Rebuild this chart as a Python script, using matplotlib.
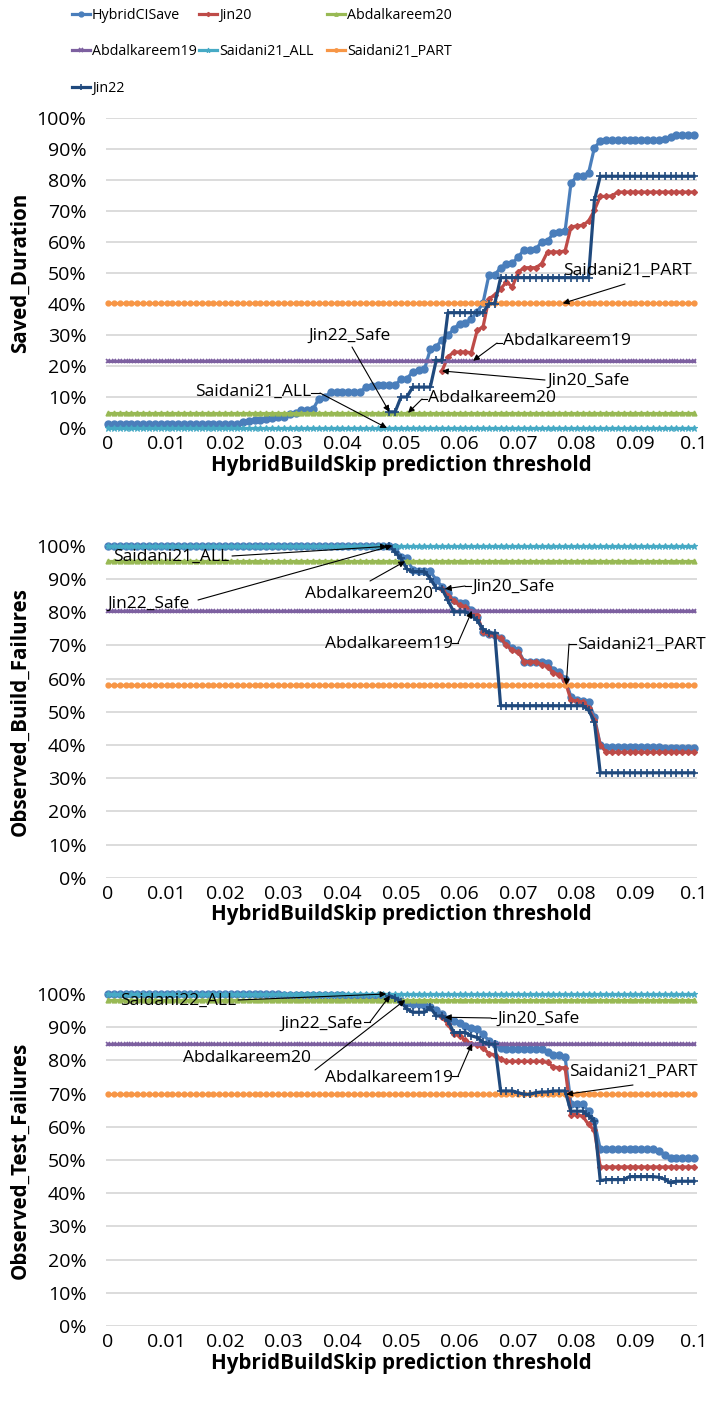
import numpy as np
import matplotlib
matplotlib.use("Agg")
import matplotlib.pyplot as plt
from matplotlib.lines import Line2D
from matplotlib.ticker import FixedLocator, FuncFormatter

plt.rcParams['font.family'] = ['Open Sans', 'DejaVu Sans']

W, H = 710, 1402

# ---------------- data ----------------
thresholds = [round(i * 0.001, 3) for i in range(101)]
xtick_values = [0.0, 0.01, 0.02, 0.03, 0.04, 0.05, 0.06, 0.07, 0.08, 0.09, 0.1]
xtick_labels = ['0', '0.01', '0.02', '0.03', '0.04', '0.05', '0.06', '0.07', '0.08', '0.09', '0.1']
ytick_values = [0, 10, 20, 30, 40, 50, 60, 70, 80, 90, 100]

series_names = ['HybridCISave', 'Jin20', 'Abdalkareem20', 'Abdalkareem19',
                'Saidani21_ALL', 'Saidani21_PART', 'Jin22']
panel_ylabels = ['Saved_Duration', 'Observed_Build_Failures', 'Observed_Test_Failures']
xlabel_text = 'HybridBuildSkip prediction threshold'

# Panel 1: Saved_Duration (%)
sd_hybrid = ([1.5] * 20 +
             [1.5, 1.5, 1.5, 1.9, 2.2, 2.6, 2.8, 3.1, 3.3, 3.5,
              3.6, 4.5, 5.0, 6.0, 6.0, 6.2, 9.6, 10.0, 11.7, 11.7,
              11.7, 11.7, 11.7, 11.7, 13.3, 13.6, 13.9, 13.9, 13.9, 13.9,
              15.8, 16.0, 18.2, 18.7, 19.0, 25.5, 26.3, 28.6, 30.0, 32.0,
              33.8, 34.0, 35.3, 37.5, 40.5, 49.4, 49.5, 51.8, 52.9, 53.2,
              55.3, 57.6, 57.6, 57.8, 60.1, 60.3, 63.0, 63.3, 63.6, 79.0,
              81.3, 81.5, 82.3, 90.5, 92.6, 93.0, 93.0, 93.0, 93.0, 93.0,
              93.0, 93.0, 93.0, 93.0, 93.0, 93.2, 94.0, 94.5, 94.5, 94.5,
              94.5])
sd_jin20 = ([None] * 57 +
            [18.5, 23.0, 24.6,
             24.6, 24.6, 24.4, 31.6, 32.7, 41.8, 43.0, 45.0, 47.2, 45.6,
             50.4, 51.8, 51.8, 51.8, 53.1, 56.9, 56.9, 56.9, 57.2, 64.9,
             65.3, 65.5, 66.8, 70.3, 74.8, 74.8, 75.0, 76.2, 76.2, 76.2,
             76.2, 76.2, 76.2, 76.2, 76.2, 76.2, 76.2, 76.2, 76.2, 76.2,
             76.2])
sd_jin22 = ([None] * 48 +
            [5.3, 5.3,
             10.1, 10.1, 13.3, 13.3, 13.3, 13.3, 21.9, 21.9, 37.3, 37.3,
             37.3, 37.3, 37.3, 37.3, 37.3, 40.2, 40.2, 48.6, 48.6, 48.6,
             48.6, 48.6, 48.6, 48.6, 48.6, 48.6, 48.6, 48.6, 48.6, 48.6,
             48.6, 48.6, 48.6, 73.5, 81.3, 81.3, 81.3, 81.3, 81.3, 81.3,
             81.3, 81.3, 81.3, 81.3, 81.3, 81.3, 81.3, 81.3, 81.3, 81.3,
             81.3])
sd_abdalkareem20 = [5.0] * 101
sd_abdalkareem19 = [21.8] * 101
sd_saidani_all = [0.1] * 101
sd_saidani_part = [40.3] * 101

# Panel 2: Observed_Build_Failures (%)
bf_hybrid = ([100.0] * 49 +
             [99.6,
              96.7, 96.2, 92.7, 92.5, 92.5, 92.3, 89.7, 87.7, 85.7, 83.6,
              82.6, 82.6, 80.6, 78.6, 74.0, 73.3, 73.0, 72.1, 70.6, 69.1,
              68.6, 65.1, 65.1, 65.1, 65.1, 64.6, 62.6, 62.1, 60.0, 54.5,
              53.5, 53.2, 53.0, 48.5, 40.0, 39.5, 39.5, 39.5, 39.5, 39.5,
              39.5, 39.5, 39.5, 39.5, 39.5, 39.2, 39.0, 39.0, 39.0, 39.0,
              39.0])
bf_jin20 = ([None] * 57 +
            [87.0, 85.0, 83.3,
             82.1, 81.6, 80.1, 79.0, 74.0, 73.4, 72.8, 72.1, 70.0, 68.5,
             68.0, 65.1, 65.1, 65.0, 64.2, 63.6, 61.7, 61.1, 59.2, 53.5,
             53.2, 53.0, 51.2, 47.5, 40.0, 37.8, 37.8, 37.8, 37.8, 37.8,
             37.8, 37.8, 37.8, 37.8, 37.8, 37.8, 37.8, 37.8, 37.8, 37.8,
             37.8])
bf_jin22 = ([None] * 48 +
            [100.0, 98.0,
             96.2, 93.0, 92.2, 92.2, 92.2, 90.1, 87.2, 87.0, 83.5, 80.1,
             80.1, 80.1, 79.0, 77.6, 74.8, 73.8, 73.6, 51.8, 51.8, 51.8,
             51.8, 51.8, 51.8, 51.8, 51.8, 51.8, 51.8, 51.8, 51.8, 51.8,
             51.8, 51.8, 50.5, 47.0, 31.6, 31.6, 31.6, 31.6, 31.6, 31.6,
             31.6, 31.6, 31.6, 31.6, 31.6, 31.6, 31.6, 31.6, 31.6, 31.6,
             31.6])
bf_abdalkareem20 = [95.3] * 101
bf_abdalkareem19 = [80.3] * 101
bf_saidani_all = [100.0] * 101
bf_saidani_part = [58.0] * 101

# Panel 3: Observed_Test_Failures (%)
tf_hybrid = ([100.0] * 30 + [99.7] * 11 + [99.5] * 7 +
             [99.4, 98.8,
              97.8, 97.3, 97.0, 96.9, 96.8, 96.0, 95.2, 94.0, 92.6, 91.8,
              91.4, 90.5, 89.9, 89.4, 87.9, 85.9, 84.9, 83.7, 83.4, 83.4,
              83.4, 83.4, 83.4, 83.4, 83.4, 82.5, 81.6, 81.6, 81.0, 67.0,
              66.8, 66.8, 64.7, 61.7, 53.2, 53.2, 53.2, 53.2, 53.2, 53.2,
              53.2, 53.2, 53.2, 53.2, 52.8, 51.5, 50.7, 50.7, 50.7, 50.7,
              50.7])
tf_jin20 = ([None] * 57 +
            [93.0, 91.0, 88.0,
             87.4, 86.0, 85.0, 84.7, 83.8, 82.0, 81.7, 80.5, 79.7, 79.7,
             79.7, 79.7, 79.7, 79.7, 79.7, 79.4, 78.0, 77.8, 77.8, 63.7,
             63.7, 63.2, 60.7, 58.9, 47.9, 47.9, 47.9, 47.9, 47.9, 47.9,
             47.9, 47.9, 47.9, 47.9, 47.9, 47.9, 47.9, 47.9, 47.9, 47.9,
             47.9])
tf_jin22 = ([None] * 48 +
            [99.5, 98.8,
             97.6, 95.5, 94.5, 94.5, 94.5, 96.0, 93.4, 93.4, 92.0, 88.4,
             88.4, 88.4, 87.4, 86.9, 85.5, 84.9, 84.9, 70.8, 70.8, 70.8,
             70.3, 69.8, 69.8, 70.3, 70.5, 70.5, 70.8, 70.8, 70.8, 64.7,
             64.7, 64.7, 63.3, 61.7, 43.8, 44.1, 44.1, 44.1, 44.1, 45.0,
             45.0, 45.0, 45.0, 45.0, 44.8, 44.2, 43.1, 43.6, 43.6, 43.6,
             43.6])
tf_abdalkareem20 = [98.2] * 101
tf_abdalkareem19 = [85.0] * 101
tf_saidani_all = [100.0] * 101
tf_saidani_part = [69.8] * 101

panels = [
    [sd_hybrid, sd_jin20, sd_abdalkareem20, sd_abdalkareem19, sd_saidani_all, sd_saidani_part, sd_jin22],
    [bf_hybrid, bf_jin20, bf_abdalkareem20, bf_abdalkareem19, bf_saidani_all, bf_saidani_part, bf_jin22],
    [tf_hybrid, tf_jin20, tf_abdalkareem20, tf_abdalkareem19, tf_saidani_all, tf_saidani_part, tf_jin22],
]

# annotations: text, text left px, text centre y px, tip (threshold, value), tail px, hook start x px
notes = [
    [('Saidani21_PART', 563, 271, (0.0776, 40.3), (625, 284), None),
     ('Abdalkareem19', 503, 341, (0.0623, 21.8), (497, 343), 502),
     ('Jin20_Safe', 547, 381, (0.057, 18.5), (545, 380), None),
     ('Abdalkareem20', 428, 398, (0.0512, 5.0), (422, 399), 427),
     ('Jin22_Safe', 308, 336, (0.048, 5.3), (352, 347), None),
     ('Saidani21_ALL', 195, 392, (0.0476, 0.1), (320, 393), 311)],
    [('Saidani21_ALL', 113, 557, (0.0476, 99.8), (232, 556), None),
     ('Jin22_Safe', 107, 604, (0.0485, 100.0), (198, 600), None),
     ('Abdalkareem20', 305, 594, (0.0507, 95.3), (370, 581), None),
     ('Jin20_Safe', 472, 587, (0.0575, 87.0), (465, 586), 471),
     ('Abdalkareem19', 325, 644, (0.0621, 80.3), (458, 643), 452),
     ('Saidani21_PART', 577, 645, (0.0782, 58.0), (569, 644), 576)],
    [('Saidani22_ALL', 120, 1001, (0.0475, 100.0), (238, 1000), None),
     ('Jin22_Safe', 280, 1024, (0.0481, 99.5), (370, 1022), 364),
     ('Abdalkareem20', 183, 1058, (0.0507, 98.2), (315, 1070), None),
     ('Jin20_Safe', 497, 1019, (0.0575, 93.0), (491, 1018), 496),
     ('Abdalkareem19', 325, 1078, (0.0621, 85.0), (458, 1076), 452),
     ('Saidani21_PART', 569, 1072, (0.0782, 69.8), (633, 1085), None)],
]

# ---------------- styles ----------------
colors = ['#4A7EBB', '#BE4B48', '#98B954', '#7D60A0', '#46AAC5', '#F79646', '#1F497D']
markers = ['o', 'D', '^', 'x', '*', 'o', '+']
msizes = [5.0, 3.0, 3.5, 3.5, 5.0, 3.5, 6.0]
mews = [1.0, 1.0, 1.0, 1.2, 0.8, 1.0, 1.2]
lws = [2.3, 2.3, 2.3, 2.3, 2.3, 2.3, 2.3]

FS_TICK = 14
FS_NOTE = 12.5
FS_BOLD = 14.8
FS_LEG = 10.3
fig = plt.figure(figsize=(W / 100, H / 100), dpi=100)

rects_px = [(106, 118.3, 591, 310), (106, 545.7, 591, 332), (106, 994, 591, 332)]
x_pos = np.arange(len(thresholds))
px_per_idx = 5.86


def fig_frac(px, py):
    return px / W, 1 - py / H


def idx_of(t):
    return (t - thresholds[0]) / (thresholds[1] - thresholds[0])


for p, (lx, ty, wpx, hpx) in enumerate(rects_px):
    ax = fig.add_axes([lx / W, 1 - (ty + hpx) / H, wpx / W, hpx / H])
    for s, vals in enumerate(panels[p]):
        y = np.array(vals, dtype=float)
        ax.plot(x_pos, y, color=colors[s], lw=lws[s], marker=markers[s],
                ms=msizes[s], mew=mews[s], mec=colors[s], mfc=colors[s],
                clip_on=False, zorder=3 + s, solid_joinstyle='round')
    ax.set_xlim(-2 / px_per_idx, 100 + 3 / px_per_idx)
    ax.set_ylim(0, 100)
    ax.yaxis.set_major_locator(FixedLocator(ytick_values))
    ax.yaxis.set_major_formatter(FuncFormatter(lambda v, _: f'{int(round(v))}%'))
    ax.xaxis.set_major_locator(FixedLocator([idx_of(v) for v in xtick_values]))
    ax.set_xticklabels(xtick_labels)
    ax.tick_params(axis='both', length=0, labelsize=FS_TICK, colors='black')
    ax.tick_params(axis='y', pad=14)
    ax.tick_params(axis='x', pad=5)
    ax.grid(axis='y', color='#D9D9D9', lw=1.3, zorder=0)
    ax.set_axisbelow(True)
    for sp in ax.spines.values():
        sp.set_visible(False)
    ax.set_ylabel(panel_ylabels[p], fontsize=FS_BOLD, fontweight='bold')
    ax.yaxis.set_label_coords((20.5 - lx) / wpx, 0.5)
    ax.yaxis.label.set_va('center')
    ax.set_xlabel(xlabel_text, fontsize=FS_BOLD, fontweight='bold')
    ax.xaxis.set_label_coords(0.5, -37 / hpx)
    ax.xaxis.label.set_va('center')

    for text, tx, tcy, tip, tail, hook in notes[p]:
        fx, fy = fig_frac(tx, tcy)
        fig.text(fx, fy, text, fontsize=FS_NOTE, ha='left', va='center', color='black')
        ax.annotate('', xy=(idx_of(tip[0]), tip[1]), xycoords='data',
                    xytext=fig_frac(*tail), textcoords='figure fraction',
                    arrowprops=dict(arrowstyle='-|>', color='black', lw=0.8,
                                    shrinkA=0, shrinkB=0, mutation_scale=9),
                    annotation_clip=False, zorder=20)
        if hook is not None:
            hx0, hy0 = fig_frac(hook, tail[1])
            hx1, hy1 = fig_frac(*tail)
            fig.add_artist(Line2D([hx0, hx1], [hy0, hy1], color='black', lw=0.8,
                                  transform=fig.transFigure))

# ---------------- legend ----------------
handles = [Line2D([], [], color=colors[i], lw=lws[i], marker=markers[i], ms=msizes[i] * 0.7,
                  mew=mews[i], mec=colors[i], mfc=colors[i]) for i in range(7)]
columns = [([0, 3, 6], 72), ([1, 4], 199), ([2, 5], 327)]
for idxs, xpx in columns:
    fig.legend([handles[i] for i in idxs], [series_names[i] for i in idxs],
               loc='upper left', bbox_to_anchor=fig_frac(xpx, 8), frameon=False,
               fontsize=FS_LEG, handlelength=1.26, handletextpad=0.14,
               labelspacing=1.5, borderpad=0, borderaxespad=0)

fig.savefig('out.png', dpi=100)
